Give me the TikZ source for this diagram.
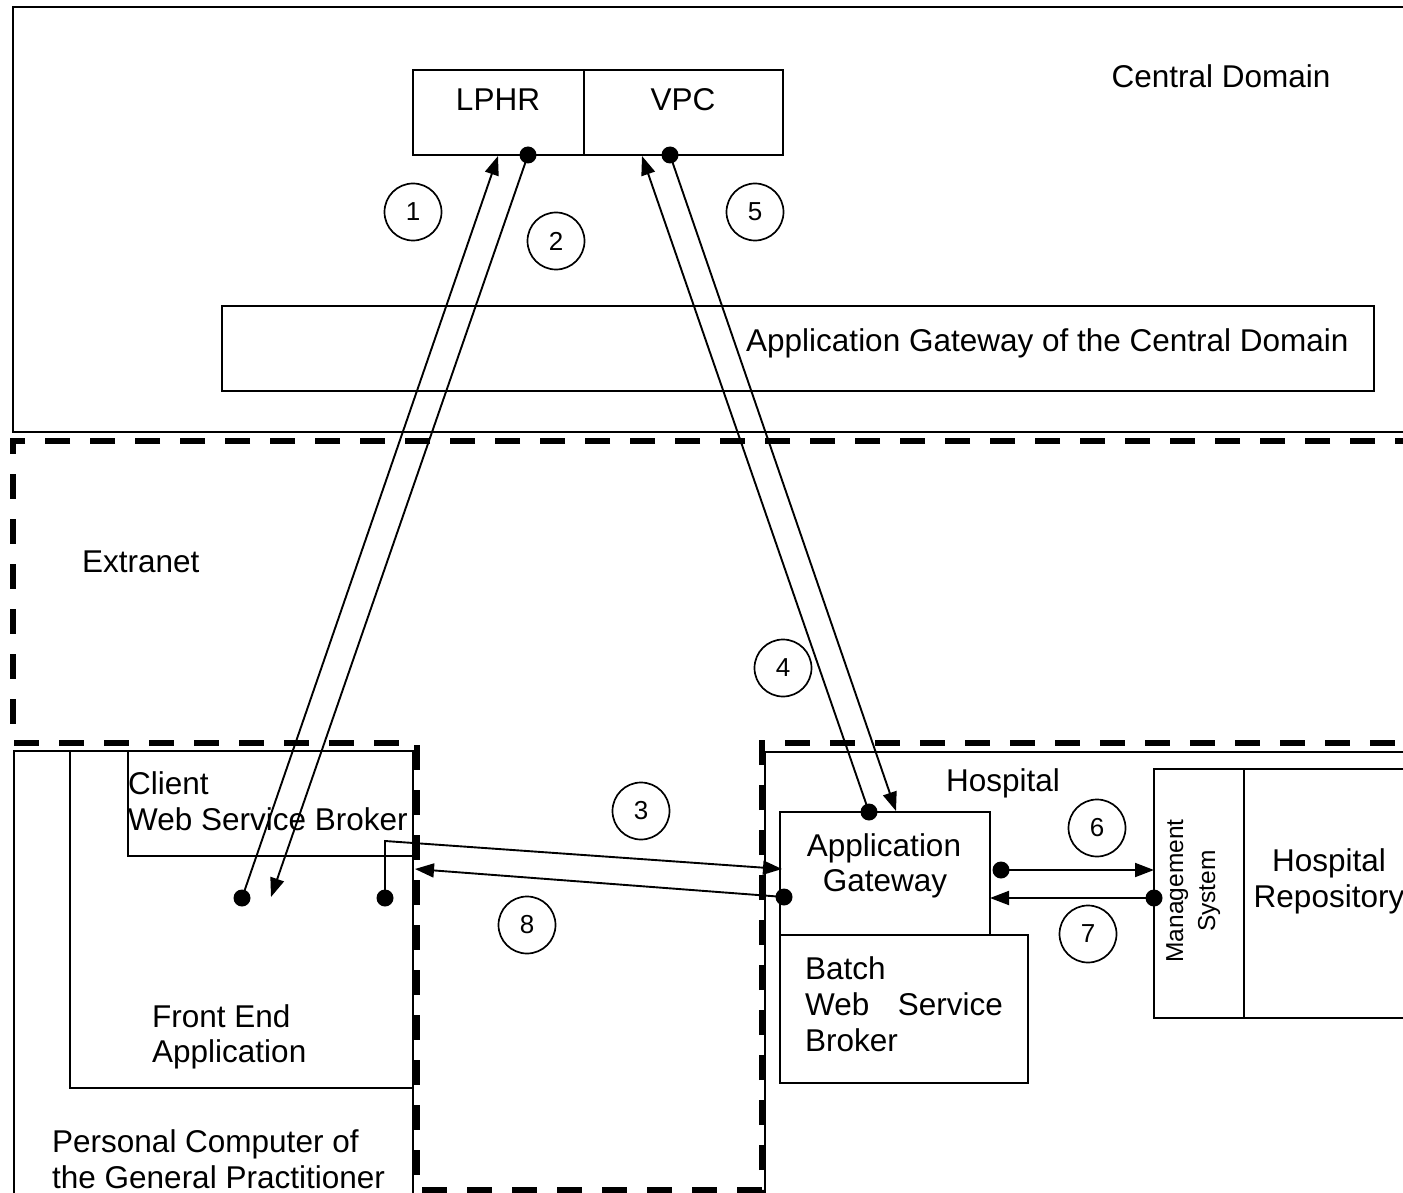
\documentclass[tikz,border=0pt]{standalone}
\usepackage{fontspec}
\setmainfont{Liberation Sans}
\usetikzlibrary{arrows.meta}
\begin{document}
\begin{tikzpicture}[x=1pt,y=-1pt,
  ln/.style={line width=1.9pt},
  boxn/.style={draw, line width=1.9pt, inner sep=0pt, outer sep=0pt, anchor=north west},
  txt/.style={font=\fontsize{31.5}{36}\selectfont, inner sep=0pt},
  small/.style={font=\fontsize{24.5}{28}\selectfont, inner sep=0pt},
  num/.style={circle, draw, line width=1.7pt, minimum size=57pt, inner sep=0pt, font=\fontsize{26}{26}\selectfont},
  dot/.style={circle, fill=black, minimum size=17pt, inner sep=0pt},
  arr/.style={line width=1.9pt, -{Triangle[length=19pt,width=14pt]}},
  dsh/.style={line width=6pt, dash pattern=on 25pt off 20pt},
]
\useasboundingbox (0,0) rectangle (1403,1193);
\clip (0,0) rectangle (1403,1193);
\fill[white] (0,0) rectangle (1403,1193);

% Central domain frame
\draw[line width=2.4pt] (1420,7) -- (13,7) -- (13,432) -- (1420,432);
% Extranet dashed border
\draw[dsh] (1420,441) -- (13,441) -- (13,743) -- (417,743) -- (417,1190) -- (762,1190) -- (762,743) -- (1420,743);

% Central domain boxes
\node[boxn, minimum width=171pt, minimum height=85pt] (lphr) at (413,70) {};
\node[boxn, minimum width=199pt, minimum height=85pt] (vpc) at (584,70) {};
\node[boxn, minimum width=1152pt, minimum height=85pt] (cdag) at (222,306) {};
\node[txt, anchor=base] (tlphr) at (498,111) {LPHR};
\node[txt, anchor=base] (tvpc) at (683,111) {VPC};
\node[txt, anchor=base] (tcd) at (1221,88) {Central Domain};
\node[txt, anchor=base west] (tcdag) at (746,351) {Application Gateway of the Central Domain};
\node[txt, anchor=base west] (text) at (82,572) {Extranet};

% Personal computer
\draw[ln] (14,1210) -- (14,751) -- (413,751) -- (413,1210);
\draw[ln] (70,751) -- (70,1088) -- (413,1088);
\draw[ln] (128,751) -- (128,856) -- (413,856);
\node[txt, anchor=base west] (tcl1) at (128,794) {Client};
\node[txt, anchor=base west] (tcl2) at (128,830) {Web Service Broker};
\node[txt, anchor=base west] (tfe1) at (152,1027) {Front End};
\node[txt, anchor=base west] (tfe2) at (152,1062) {Application};
\node[txt, anchor=base west] (tpc1) at (52,1152) {Personal Computer of};
\node[txt, anchor=base west] (tpc2) at (52,1188) {the General Practitioner};

% Hospital
\draw[ln] (765,1210) -- (765,752) -- (1420,752);
\node[txt, anchor=base] (thosp) at (1003,791) {Hospital};
\node[boxn, minimum width=210pt, minimum height=123pt] (ag) at (780,812) {};
\node[boxn, minimum width=248pt, minimum height=148pt] (batch) at (780,935) {};
\node[txt, anchor=base] (tag1) at (884,856) {Application};
\node[txt, anchor=base] (tag2) at (885,891) {Gateway};
\node[txt, anchor=base west] (tb1) at (805,979) {Batch};
\node[txt, anchor=base west] (tb2) at (805,1015) {Web};
\node[txt, anchor=base east] (tb3) at (1003,1015) {Service};
\node[txt, anchor=base west] (tb4) at (805,1051) {Broker};
\draw[ln] (1420,769) -- (1154,769) -- (1154,1018) -- (1420,1018);
\draw[ln] (1244,769) -- (1244,1018);
\node[small, rotate=90, anchor=base] (tms1) at (1183,891) {Management};
\node[small, rotate=90, anchor=base] (tms2) at (1215,891) {System};
\node[txt, anchor=base] (thr1) at (1329,871) {Hospital};
\node[txt, anchor=base] (thr2) at (1329,907) {Repository};

% connection points
\node[dot] (dlphr) at (528,155) {};
\node[dot] (dvpc) at (670,155) {};
\node[dot] (dpc1) at (242,898) {};
\node[dot] (dpc2) at (385,898) {};
\node[dot] (dag4) at (869,812) {};
\node[dot] (dag8) at (784,897) {};
\node[dot] (dag6) at (1001,870) {};
\node[dot] (dms7) at (1154,898) {};
\coordinate (inlphr) at (498,156);
\coordinate (invpc) at (642,156);
\coordinate (inpc) at (271,897);
\coordinate (bend3) at (385,841);
\coordinate (inag3) at (782,869);
\coordinate (inpc8) at (415,869);
\coordinate (inag5) at (896,811);
\coordinate (inms6) at (1154,870);
\coordinate (inag7) at (990,898);

% connectors
\draw[arr] (dpc1.center) -- (inlphr);
\draw[arr] (dlphr.center) -- (inpc);
\draw[arr] (dpc2.center) -- (bend3) -- (inag3);
\draw[arr] (dag8.center) -- (inpc8);
\draw[arr] (dag4.center) -- (invpc);
\draw[arr] (dvpc.center) -- (inag5);
\draw[arr] (dag6.center) -- (inms6);
\draw[arr] (dms7.center) -- (inag7);

% step numbers
\node[num] (n1) at (413,212) {1};
\node[num] (n2) at (556,241) {2};
\node[num] (n5) at (755,212) {5};
\node[num] (n4) at (783,668) {4};
\node[num] (n3) at (641,811) {3};
\node[num] (n8) at (527,925) {8};
\node[num] (n6) at (1097,828) {6};
\node[num] (n7) at (1088,934) {7};
\end{tikzpicture}
\end{document}
